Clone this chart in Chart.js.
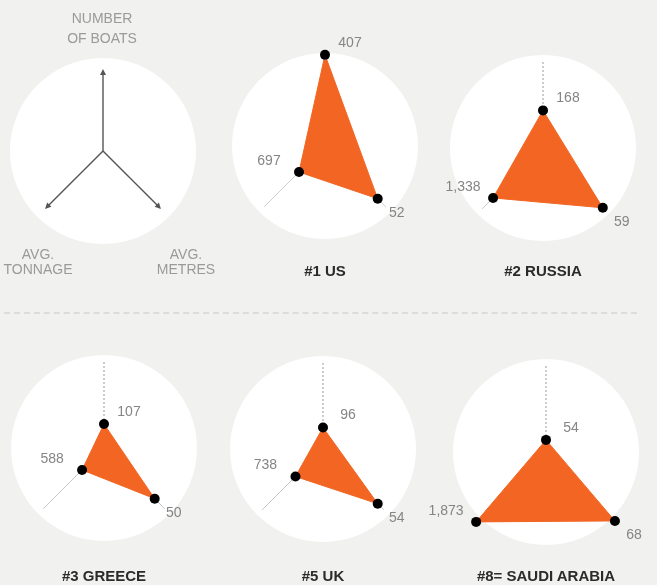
<!DOCTYPE html>
<html>
<head>
<meta charset="utf-8">
<script src="https://cdn.jsdelivr.net/npm/chart.js@4.4.0/dist/chart.umd.min.js"></script>
<style>
body { margin:0; background:#f1f1ef; width:657px; height:585px; overflow:hidden; position:relative; font-family:"Liberation Sans", Arial, sans-serif; }
.disc { position:absolute; width:186px; height:186px; border-radius:50%; background:#fff; z-index:0; }
canvas { position:absolute; z-index:1; }
.t { position:absolute; transform:translate(-50%,-50%); white-space:nowrap; z-index:2; }
.title { font-weight:bold; font-size:15px; color:#2b2b2b; }
.key { font-size:14px; color:#9a9a9a; text-align:center; }
.sep { position:absolute; left:4px; top:312px; width:633px; border-top:2px dashed #dcdcdc; }
</style>
</head>
<body>
<div class="sep"></div>
<div class="t key" style="left:102px;top:28px;line-height:20px">NUMBER<br>OF BOATS</div>
<div class="t key" style="left:38px;top:262px;line-height:15px">AVG.<br>TONNAGE</div>
<div class="t key" style="left:186px;top:262px;line-height:15px">AVG.<br>METRES</div>
<script>
// values per country
const countries = ['#1 US', '#2 RUSSIA', '#3 GREECE', '#5 UK', '#8= SAUDI ARABIA'];
const boats = [407, 168, 107, 96, 54];
const metres = [52, 59, 50, 54, 68];
const tonnage = [697, 1338, 588, 738, 1873];

// each axis has its own range (value at the end of the axis line)
const boatsMax = 384;
const metresMax = 60;
const tonnageMax = 1630;

// 8 spokes so the three used ones sit at 0, 135 and 225 degrees
const spokes = ['Number of boats', '', '', 'Avg. metres', '', 'Avg. tonnage', '', ''];
const BOATS = 0, METRES = 3, TONNAGE = 5;

// panel centres: key first, then countries
const centres = [[103,151],[325,146],[543,148],[104,448],[323,449],[546,452]];
const titleY = [270, 270, 575, 575, 575];

const orange = '#f26522';
const SIZE = 260;

function place(i) {
    const [cx, cy] = centres[i];
    const disc = document.createElement('div');
    disc.className = 'disc';
    disc.style.left = (cx - 93) + 'px';
    disc.style.top = (cy - 93) + 'px';
    document.body.appendChild(disc);
    const cv = document.createElement('canvas');
    cv.width = SIZE; cv.height = SIZE;
    cv.style.left = (cx - SIZE / 2) + 'px';
    cv.style.top = (cy - SIZE / 2) + 'px';
    document.body.appendChild(cv);
    return cv;
}

const arrowPlugin = {
    id: 'arrows',
    afterDraw(chart) {
        const sc = chart.scales.r;
        const ctx = chart.ctx;
        ctx.save();
        ctx.fillStyle = '#555';
        [BOATS, METRES, TONNAGE].forEach((i) => {
            const p = sc.getPointPosition(i, sc.drawingArea);
            const a = Math.atan2(p.y - sc.yCenter, p.x - sc.xCenter);
            ctx.beginPath();
            ctx.moveTo(p.x + Math.cos(a) * 2, p.y + Math.sin(a) * 2);
            ctx.lineTo(p.x - Math.cos(a) * 4 + Math.sin(a) * 3, p.y - Math.sin(a) * 4 - Math.cos(a) * 3);
            ctx.lineTo(p.x - Math.cos(a) * 4 - Math.sin(a) * 3, p.y - Math.sin(a) * 4 + Math.cos(a) * 3);
            ctx.closePath();
            ctx.fill();
        });
        ctx.restore();
    }
};

// dots + value labels (points can sit outside the chart area, where Chart.js skips them)
const valuePlugin = {
    id: 'values',
    afterDatasetsDraw(chart) {
        const raw = chart.options.plugins.values.raw;
        const meta = chart.getDatasetMeta(0);
        const ctx = chart.ctx;
        const offs = { 0: [25, -12], 3: [19, 14], 5: [-30, -11] };
        ctx.save();
        ctx.font = '14px "Liberation Sans", Arial, sans-serif';
        ctx.textAlign = 'center';
        ctx.textBaseline = 'middle';
        [BOATS, METRES, TONNAGE].forEach((i) => {
            const el = meta.data[i];
            ctx.fillStyle = '#000';
            ctx.beginPath();
            ctx.arc(el.x, el.y, 5, 0, Math.PI * 2);
            ctx.fill();
            ctx.fillStyle = '#858585';
            ctx.fillText(raw[i].toLocaleString('en-US'), el.x + offs[i][0], el.y + offs[i][1]);
        });
        ctx.restore();
    }
};

function scaleOpts(lineColor) {
    return {
        r: {
            min: 0, max: 1,
            ticks: { display: false },
            grid: { display: false },
            pointLabels: { display: false },
            angleLines: {
                color: lineColor,
                lineWidth: (c) => ([BOATS, METRES, TONNAGE].includes(c.index) ? (lineColor === '#555' ? 1.4 : 1) : 0),
                borderDash: (c) => (c.index === BOATS && lineColor !== '#555' ? [2, 2] : [])
            }
        }
    };
}

// key panel
new Chart(place(0), {
    type: 'radar',
    data: { labels: spokes, datasets: [] },
    options: {
        responsive: false, animation: false,
        layout: { padding: (SIZE - 160) / 2 },
        plugins: { legend: { display: false }, tooltip: { enabled: false } },
        scales: scaleOpts('#555')
    },
    plugins: [arrowPlugin]
});

countries.forEach((name, k) => {
    const data = spokes.map(() => null);
    data[BOATS] = boats[k] / boatsMax;
    data[METRES] = metres[k] / metresMax;
    data[TONNAGE] = tonnage[k] / tonnageMax;
    const raw = spokes.map(() => null);
    raw[BOATS] = boats[k];
    raw[METRES] = metres[k];
    raw[TONNAGE] = tonnage[k];

    const cv = place(k + 1);
    new Chart(cv, {
        type: 'radar',
        data: {
            labels: spokes,
            datasets: [{
                data: data,
                spanGaps: true,
                clip: false,
                fill: true,
                backgroundColor: orange,
                borderColor: orange,
                borderWidth: 1,
                pointRadius: 0
            }]
        },
        options: {
            responsive: false, animation: false,
            layout: { padding: (SIZE - 172) / 2 },
            plugins: { legend: { display: false }, tooltip: { enabled: false }, values: { raw: raw } },
            scales: scaleOpts(k === 0 ? '#cfcfcf' : (c) => (c.index === BOATS ? '#9a9a9a' : '#c8c8c8'))
        },
        plugins: [valuePlugin]
    });

    const t = document.createElement('div');
    t.className = 't title';
    t.textContent = name;
    t.style.left = centres[k + 1][0] + 'px';
    t.style.top = titleY[k] + 'px';
    document.body.appendChild(t);
});
</script>
</body>
</html>
